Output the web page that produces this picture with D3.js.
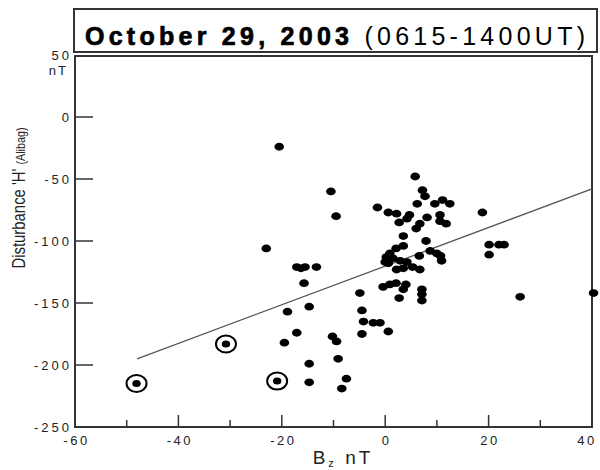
<!DOCTYPE html>
<html>
<head>
<meta charset="utf-8">
<script src="https://cdn.jsdelivr.net/npm/d3@7"></script>
<style>
  body { margin: 0; background: #fff; }
  text { font-family: "Liberation Sans", Arial, sans-serif; fill: #222; }
</style>
</head>
<body>
<div id="chart"></div>
<script>
// Bz (nT) vs disturbance H (nT) at Alibag
var bz = [
  -20.5, -10.5, -9.5, -23, -17.1, -16.3, -15.5, -13.3, -15.7, -14.7, -18.9, -17.1, -19.5,
  -10.2, -9.4, -9.1, -14.7, -14.7, -7.5, -8.4,
  18.8, 20.1, 22.0, 23.0, 20.1, 26.1, 40.3,
  5.8, 7.2, 7.7, 6.2, 9.6, 11.1, 12.5, -1.5, 0.6, 2.2, 4.7, 4.2, 2.7, 8.1, 10.6, 10.6, 11.8,
  6.7, 6.0, 3.5, 7.9, 3.5, 2.1, 0.9, 0.2, 0.0, 1.5, 2.9, 4.2, 6.6, 8.7, 10.0, 10.7, 10.9,
  2.2, 3.5, 5.3, 6.7, 0.6, -0.4, 0.9, 2.1, 4.0, 3.5, 2.7, 7.1, 7.1, 7.1,
  -4.9, -4.5, -4.2, -2.3, -1.0, 0.6, -4.5
];
var dH = [
  -24, -60, -80, -106, -121, -122, -121, -121, -134, -153, -157, -174, -182,
  -177, -181, -195, -199, -214, -211, -219,
  -77, -103, -103, -103, -111, -145, -142,
  -48, -59, -64, -70, -70, -67, -70, -73, -77, -78, -79, -82, -85, -81, -79, -84, -86,
  -86, -90, -96, -100, -104, -106, -110, -113, -117, -114, -116, -117, -112, -108, -110, -112, -116,
  -123, -122, -121, -123, -118, -137, -135, -134, -135, -139, -146, -139, -143, -148,
  -142, -156, -165, -166, -166, -173, -175
];
// circled events
var circBz = [-48.1, -30.8, -20.9];
var circH = [-215, -183, -213];
// regression line end points
var fitBz = [-48, 40];
var fitH = [-195, -58];

var xTicksMajor = [-60, -40, -20, 0, 20, 40];
var xTicksMinor = [-50, -30, -10, 10, 30];
var yTicks = [50, 0, -50, -100, -150, -200, -250];

var W = 600, H = 470;
var svg = d3.select('#chart').append('svg').attr('width', W).attr('height', H);

var x = d3.scaleLinear().domain([-60, 40]).range([75, 592]);
var y = d3.scaleLinear().domain([-250, 50]).range([427, 55]);

// title box
svg.append('rect').attr('x', 74).attr('y', 9).attr('width', 523).attr('height', 43)
  .attr('fill', 'none').attr('stroke', '#333').attr('stroke-width', 2);
var title = svg.append('text').attr('x', 85).attr('y', 45)
  .attr('textLength', 500).attr('lengthAdjust', 'spacing')
  .style('font-size', '25px').style('fill', '#000');
title.append('tspan').attr('font-weight', 'bold')
  .style('stroke', '#000').style('stroke-width', 0.7).text('October 29, 2003 ');
title.append('tspan').text('(0615-1400UT)');

// plot frame
svg.append('rect').attr('x', 75).attr('y', 56).attr('width', 517).attr('height', 371)
  .attr('fill', 'none').attr('stroke', '#333').attr('stroke-width', 2);

// x ticks
svg.selectAll('.xmaj').data(xTicksMajor.slice(1, -1)).enter().append('line')
  .attr('x1', d => x(d)).attr('x2', d => x(d)).attr('y1', 427).attr('y2', 415)
  .attr('stroke', '#333').attr('stroke-width', 1.5);
svg.selectAll('.xmin').data(xTicksMinor).enter().append('line')
  .attr('x1', d => x(d)).attr('x2', d => x(d)).attr('y1', 427).attr('y2', 420)
  .attr('stroke', '#333').attr('stroke-width', 1.5);
svg.selectAll('.xlab').data(xTicksMajor).enter().append('text')
  .attr('x', d => Math.min(x(d) + 1.5, W - 13)).attr('y', 445).attr('text-anchor', 'middle')
  .style('font-size', '13px').style('letter-spacing', '2.5px').text(d => d);

// y ticks
svg.selectAll('.ytk').data(yTicks.slice(1, -1)).enter().append('line')
  .attr('x1', 75).attr('x2', 93).attr('y1', d => y(d)).attr('y2', d => y(d))
  .attr('stroke', '#333').attr('stroke-width', 1.5);
svg.selectAll('.ylab').data(yTicks).enter().append('text')
  .attr('x', 72).attr('y', d => y(d) + 5).attr('text-anchor', 'end')
  .style('font-size', '13px').style('letter-spacing', '3px').text(d => d);
svg.append('text').attr('x', 68).attr('y', 75).attr('text-anchor', 'end')
  .style('font-size', '13px').style('letter-spacing', '2px').text('nT');

// axis titles
var xt = svg.append('text').attr('x', 343).attr('y', 464).attr('text-anchor', 'middle')
  .style('font-size', '19px').style('letter-spacing', '3px');
xt.append('tspan').text('B');
xt.append('tspan').attr('dy', 3).style('font-size', '11px').text('z');
xt.append('tspan').attr('dy', -3).text(' nT');

var yt = svg.append('text').attr('transform', 'translate(25,198) rotate(-90)')
  .attr('text-anchor', 'middle').attr('textLength', 141).attr('lengthAdjust', 'spacingAndGlyphs')
  .style('font-size', '18px');
yt.append('tspan').text("Disturbance 'H' ");
yt.append('tspan').style('font-size', '13px').text('(Alibag)');

// regression line
svg.append('line')
  .attr('x1', x(fitBz[0])).attr('y1', y(fitH[0]))
  .attr('x2', x(fitBz[1])).attr('y2', y(fitH[1]))
  .attr('stroke', '#555').attr('stroke-width', 1.3);

// points
svg.selectAll('.pt').data(bz).enter().append('ellipse')
  .attr('cx', (d, i) => x(d)).attr('cy', (d, i) => y(dH[i]))
  .attr('rx', 4.8).attr('ry', 3.9).attr('fill', '#000');

svg.selectAll('.ring').data(circBz).enter().append('ellipse')
  .attr('cx', d => x(d)).attr('cy', (d, i) => y(circH[i]))
  .attr('rx', 10).attr('ry', 8.5).attr('fill', 'none')
  .attr('stroke', '#000').attr('stroke-width', 2);
svg.selectAll('.cpt').data(circBz).enter().append('ellipse')
  .attr('cx', d => x(d)).attr('cy', (d, i) => y(circH[i]))
  .attr('rx', 4.2).attr('ry', 3.5).attr('fill', '#000');
</script>
</body>
</html>
